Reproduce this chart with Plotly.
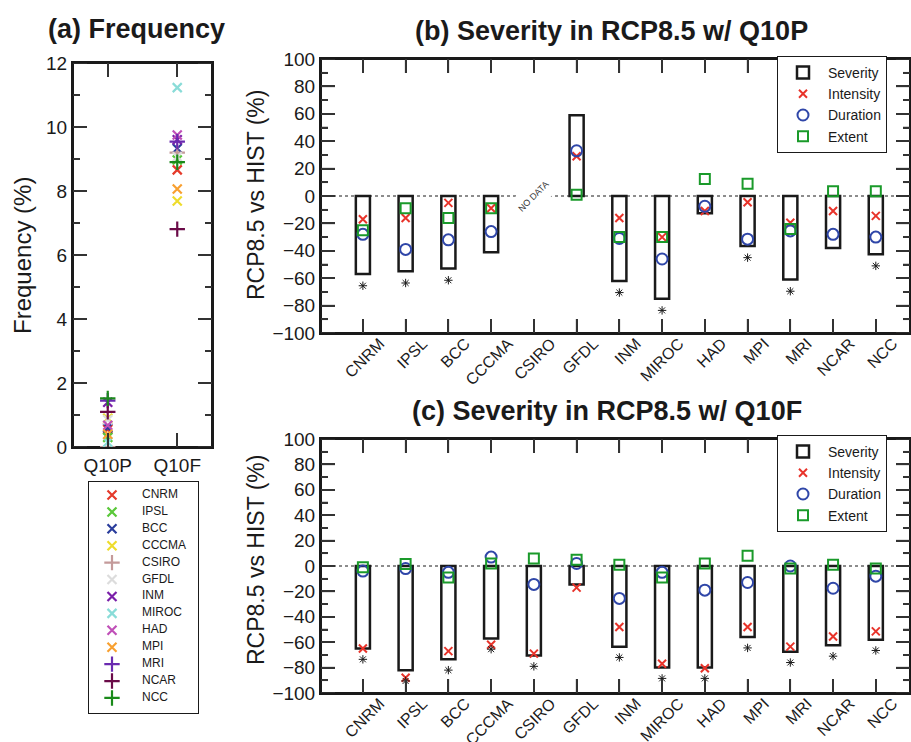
import plotly.graph_objects as go

W, H = 911, 742
FONT = "Liberation Sans, Arial, Helvetica, sans-serif"
INK = "#1a1a1a"
TICK_C = "#333333"

# ---------------- data ----------------
models = ["CNRM", "IPSL", "BCC", "CCCMA", "CSIRO", "GFDL", "INM",
          "MIROC", "HAD", "MPI", "MRI", "NCAR", "NCC"]
model_colors = ["#e53a2a", "#5ac83a", "#2a3d9c", "#eedc2c", "#c49a9a", "#dcdcdc",
                "#7a1fa8", "#8adcd8", "#c050b8", "#f8a030", "#6a2ab0", "#6a0a48", "#1a8a1a"]
model_symbols = ["x", "x", "x", "x", "+", "x", "x", "x", "x", "x", "+", "+", "+"]

freq_scenarios = ["Q10P", "Q10F"]
freq_q10p = [0.55, 0.30, 0.60, 0.90, 0.00, 0.85, 1.40, 0.15, 0.68, 0.40, 1.45, 1.10, 1.52]
freq_q10f = [8.66, 8.97, 9.33, 7.69, 9.20, 9.07, 9.60, 11.23, 9.75, 8.06, 9.54, 6.81, 8.90]

# (b) RCP8.5 w/ Q10P  (None = no data)
sev_q10p = [-57, -55, -53, -41, None, 59, -62, -75, -12.5, -36.5, -61, -38, -42.5]
int_q10p = [-17, -16, -5, -9, None, 29, -16, -30, -11, -4.5, -19.5, -11, -14.5]
dur_q10p = [-28, -39, -32, -26, None, 33, -31, -46, -7.5, -31.5, -25.5, -28, -30]
ext_q10p = [-25, -9, -16, -9, None, 1, -30, -30, 12.5, 9, -24, 3.5, 3.5]
sig_q10p = [1, 1, 1, 0, 0, 0, 1, 1, 0, 1, 1, 0, 1]

# (c) RCP8.5 w/ Q10F
sev_q10f = [-65, -82, -73.5, -57, -70.5, -14.5, -63.5, -80, -80, -56, -67.5, -62.5, -58]
int_q10f = [-65, -88, -67, -62, -69, -17, -48, -77, -80.5, -48, -63.5, -55.5, -51.5]
dur_q10f = [-4, -2, -5, 7, -14.5, 2, -25.5, -5, -19, -13, 0, -17.5, -8]
ext_q10f = [-1, 1.5, -9, 2, 6, 5, 1, -9, 2, 8, -2, 1, -2]
sig_q10f = [1, 1, 1, 1, 1, 0, 1, 1, 1, 1, 1, 1, 1]

yticks_freq = [0, 2, 4, 6, 8, 10, 12]
yticks_sev = [-100, -80, -60, -40, -20, 0, 20, 40, 60, 80, 100]

# ---------------- styles / layout boxes (pixels) ----------------
C_INT, C_DUR, C_EXT = "#e8332a", "#2f46a8", "#1a9a2a"
STAR_OFFSET = 8.5
sym_map = {"x": "x-thin-open", "+": "cross-thin-open"}
size_map = {"x": 9, "+": 11}
BOX_A = (73, 212, 63, 447)     # left, right, top, bottom
BOX_B = (321, 910, 59, 333)
BOX_C = (321, 910, 439, 693)
MAJOR_LEN, MINOR_LEN = 14, 7


def dom_x(a, b):
    return [a / W, b / W]


def dom_y(top, bottom):
    return [1 - bottom / H, 1 - top / H]


def minors(vals):
    return [(a + b) / 2 for a, b in zip(vals[:-1], vals[1:])]


fig = go.Figure()

# ---------------- panel (a) ----------------
for i, m in enumerate(models):
    fig.add_trace(go.Scatter(
        x=freq_scenarios, y=[freq_q10p[i], freq_q10f[i]], mode="markers",
        marker=dict(symbol=sym_map[model_symbols[i]], size=size_map[model_symbols[i]],
                    color=model_colors[i], line=dict(color=model_colors[i], width=2.2)),
        name=m, showlegend=False, xaxis="x", yaxis="y"))

# legend of panel (a), drawn on its own small axes
for i, m in enumerate(models):
    fig.add_trace(go.Scatter(
        x=[23], y=[i], mode="markers",
        marker=dict(symbol=sym_map[model_symbols[i]], size=size_map[model_symbols[i]],
                    color=model_colors[i], line=dict(color=model_colors[i], width=2.2)),
        showlegend=False, xaxis="x4", yaxis="y4", hoverinfo="skip"))
fig.add_trace(go.Scatter(
    x=[53] * len(models), y=list(range(len(models))), mode="text", text=models,
    textposition="middle right", textfont=dict(size=12, color=INK, family=FONT),
    showlegend=False, xaxis="x4", yaxis="y4", hoverinfo="skip"))


# ---------------- panels (b) and (c) ----------------
def add_severity(sev, inten, dur, ext, sig, xa, ya, leg):
    fig.add_trace(go.Bar(
        x=models, y=sev, width=0.33, name="Severity",
        marker=dict(color="white", line=dict(color=INK, width=2.5)),
        xaxis=xa, yaxis=ya, legend=leg))
    fig.add_trace(go.Scatter(
        x=models, y=inten, mode="markers", name="Intensity",
        marker=dict(symbol="x-thin-open", size=8, color=C_INT, line=dict(color=C_INT, width=2)),
        xaxis=xa, yaxis=ya, legend=leg))
    fig.add_trace(go.Scatter(
        x=models, y=dur, mode="markers", name="Duration",
        marker=dict(symbol="circle-open", size=11, color=C_DUR, line=dict(color=C_DUR, width=2)),
        xaxis=xa, yaxis=ya, legend=leg))
    fig.add_trace(go.Scatter(
        x=models, y=ext, mode="markers", name="Extent",
        marker=dict(symbol="square-open", size=10, color=C_EXT, line=dict(color=C_EXT, width=2)),
        xaxis=xa, yaxis=ya, legend=leg))
    sx = [m for m, s in zip(models, sig) if s]
    sy = [v - STAR_OFFSET for v, s in zip(sev, sig) if s]
    fig.add_trace(go.Scatter(
        x=sx, y=sy, mode="markers", showlegend=False,
        marker=dict(symbol="asterisk-open", size=7, color=INK, line=dict(color=INK, width=1)),
        xaxis=xa, yaxis=ya))


add_severity(sev_q10p, int_q10p, dur_q10p, ext_q10p, sig_q10p, "x2", "y2", "legend2")
add_severity(sev_q10f, int_q10f, dur_q10f, ext_q10f, sig_q10f, "x3", "y3", "legend3")

# ---------------- axes ----------------
frame = {
    "showline": True, "linecolor": INK, "linewidth": 2, "mirror": "allticks",
    "ticks": "inside", "ticklen": MAJOR_LEN, "tickwidth": 2, "tickcolor": TICK_C,
    "gridcolor": "rgba(0,0,0,0)", "zerolinecolor": "rgba(0,0,0,0)",
    "tickfont": dict(size=19, color=INK, family=FONT),
}


def minor(d):
    return dict(dtick=d, ticks="inside", ticklen=MINOR_LEN, tickcolor=TICK_C)


sev_axis = {**frame, "range": [yticks_sev[0], yticks_sev[-1]], "tick0": yticks_sev[0],
            "dtick": yticks_sev[1] - yticks_sev[0],
            "minor": minor((yticks_sev[1] - yticks_sev[0]) / 2)}
cat_axis = {**frame, "type": "category", "categoryorder": "array", "categoryarray": models,
            "range": [-0.98, 12.8], "tickangle": -45, "ticklabelshift": 17,
            "ticklabelstandoff": -7, "tickfont": dict(size=16, color=INK, family=FONT)}
bare = dict(showline=True, mirror=True, linecolor=INK, linewidth=1, showticklabels=False,
            ticks="", gridcolor="rgba(0,0,0,0)", zerolinecolor="rgba(0,0,0,0)")

fig.update_layout(
    template="none",
    xaxis={**frame, "domain": dom_x(BOX_A[0], BOX_A[1]), "anchor": "y", "type": "category",
           "categoryorder": "array", "categoryarray": freq_scenarios, "range": [-0.5, 1.5]},
    yaxis={**frame, "domain": dom_y(BOX_A[2], BOX_A[3]), "anchor": "x",
           "range": [yticks_freq[0], yticks_freq[-1]], "tick0": yticks_freq[0],
           "dtick": yticks_freq[1] - yticks_freq[0],
           "minor": minor((yticks_freq[1] - yticks_freq[0]) / 2)},
    xaxis2={**cat_axis, "domain": dom_x(BOX_B[0], BOX_B[1]), "anchor": "y2"},
    yaxis2={**sev_axis, "domain": dom_y(BOX_B[2], BOX_B[3]), "anchor": "x2"},
    xaxis3={**cat_axis, "domain": dom_x(BOX_C[0], BOX_C[1]), "anchor": "y3"},
    yaxis3={**sev_axis, "domain": dom_y(BOX_C[2], BOX_C[3]), "anchor": "x3"},
    xaxis4={**bare, "domain": dom_x(89, 198), "anchor": "y4", "range": [0, 109]},
    yaxis4={**bare, "domain": dom_y(482, 713), "anchor": "x4", "range": [12.89, -0.77]},
)

leg_common = dict(xanchor="left", yanchor="top", bgcolor="white", bordercolor=INK,
                  borderwidth=1, font=dict(size=14, color=INK, family=FONT),
                  itemwidth=40, tracegroupgap=0)
fig.update_layout(
    legend2={**leg_common, "x": 777 / W, "y": 1 - 56 / H},
    legend3={**leg_common, "x": 777 / W, "y": 1 - 435 / H},
)


# ---------------- frames and tick marks (bottom shape layer) ----------------
def frame_and_ticks(box, xa, ya, cats, yvals):
    l, r, t, b = box
    fig.add_shape(type="rect", xref="paper", yref="paper",
                  x0=l / W, x1=r / W, y0=1 - b / H, y1=1 - t / H,
                  line=dict(color=INK, width=2), fillcolor="rgba(0,0,0,0)", layer="below")
    tick_line = dict(color=TICK_C, width=1.5)
    for vals, ln in ((yvals, MAJOR_LEN), (minors(yvals), MINOR_LEN)):
        for v in vals:
            fig.add_shape(type="line", xref="paper", yref=ya, x0=l / W, x1=(l + ln) / W,
                          y0=v, y1=v, line=tick_line, layer="below")
            fig.add_shape(type="line", xref="paper", yref=ya, x0=(r - ln) / W, x1=r / W,
                          y0=v, y1=v, line=tick_line, layer="below")
    for c in cats:
        fig.add_shape(type="line", xref=xa, yref="paper", x0=c, x1=c,
                      y0=1 - b / H, y1=1 - (b - MAJOR_LEN) / H, line=tick_line, layer="below")
        fig.add_shape(type="line", xref=xa, yref="paper", x0=c, x1=c,
                      y0=1 - t / H, y1=1 - (t + MAJOR_LEN) / H, line=tick_line, layer="below")


frame_and_ticks(BOX_A, "x", "y", freq_scenarios, yticks_freq)
frame_and_ticks(BOX_B, "x2", "y2", models, yticks_sev)
frame_and_ticks(BOX_C, "x3", "y3", models, yticks_sev)

# dotted zero lines
for box, ya in ((BOX_B, "y2"), (BOX_C, "y3")):
    fig.add_shape(type="line", xref="paper", yref=ya, x0=box[0] / W, x1=box[1] / W, y0=0, y1=0,
                  line=dict(color=INK, width=1, dash="dot"), layer="below")

# NO DATA label for CSIRO in (b)
fig.add_annotation(x="CSIRO", y=0, xref="x2", yref="y2", text="NO DATA", showarrow=False,
                   textangle=-45, font=dict(size=9, color="#333", family=FONT),
                   bgcolor="white", borderpad=7)

# y-axis titles
fig.add_annotation(x=22 / W, y=1 - 256 / H, xref="paper", yref="paper", showarrow=False,
                   text="Frequency (%)", textangle=-90,
                   font=dict(size=24, color=INK, family=FONT), xanchor="center", yanchor="middle")
for yc in (195, 560):
    fig.add_annotation(x=256 / W, y=1 - yc / H, xref="paper", yref="paper", showarrow=False,
                       text="RCP8.5 vs HIST (%)", textangle=-90,
                       font=dict(size=23, color=INK, family=FONT), xanchor="center", yanchor="middle")

# panel titles
tfont = dict(size=27, color=INK, family=FONT)
fig.add_annotation(x=136 / W, y=1 - 29 / H, xref="paper", yref="paper", showarrow=False,
                   text="<b>(a) Frequency</b>", font=tfont, xanchor="center", yanchor="middle")
fig.add_annotation(x=611 / W, y=1 - 31 / H, xref="paper", yref="paper", showarrow=False,
                   text="<b>(b) Severity in RCP8.5 w/ Q10P</b>", font=tfont, xanchor="center", yanchor="middle")
fig.add_annotation(x=607 / W, y=1 - 411 / H, xref="paper", yref="paper", showarrow=False,
                   text="<b>(c) Severity in RCP8.5 w/ Q10F</b>", font=tfont, xanchor="center", yanchor="middle")

fig.update_layout(
    width=W, height=H, margin=dict(l=0, r=0, t=0, b=0),
    paper_bgcolor="white", plot_bgcolor="white",
    font=dict(family=FONT, color=INK), showlegend=True,
)

fig.write_html("out.html")
